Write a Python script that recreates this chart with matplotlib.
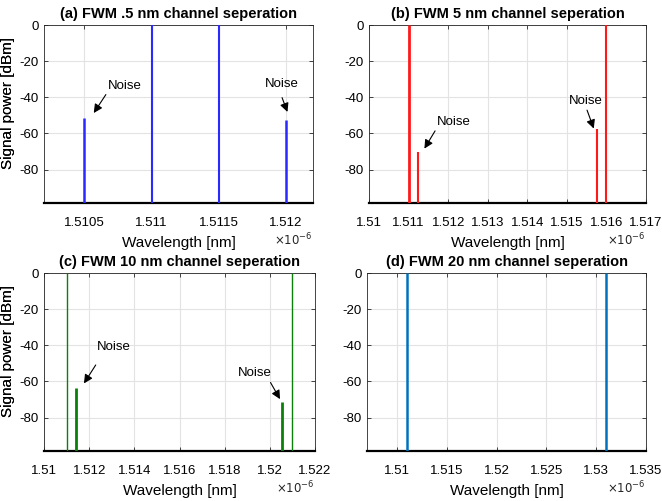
import matplotlib
matplotlib.use('Agg')
import matplotlib.pyplot as plt

plt.rcParams['font.family'] = ['Liberation Sans', 'DejaVu Sans']
plt.rcParams['axes.unicode_minus'] = False

# Wavelengths in units of 1e-6, power in dBm
titles = ['(a) FWM .5 nm channel seperation',
          '(b) FWM 5 nm channel seperation',
          '(c) FWM 10 nm channel seperation',
          '(d) FWM 20 nm channel seperation']

a_wl = [1.5105, 1.5110, 1.5115, 1.5120]
a_pw = [-51.5, 0, 0, -52.4]

b_wl = [1.5110, 1.51124, 1.51576, 1.5160]
b_pw = [0, -70.2, -57.6, 0]

c_wl = [1.5110, 1.5114, 1.52056, 1.5210]
c_pw = [0, -63.5, -71.3, 0]

d_wl = [1.5110, 1.5310]
d_pw = [0, 0]

x_limits = [(1.5102, 1.5122), (1.510, 1.517), (1.510, 1.522), (1.507, 1.535)]
x_ticks = [[1.5105, 1.511, 1.5115, 1.512],
           [1.51, 1.511, 1.512, 1.513, 1.514, 1.515, 1.516, 1.517],
           [1.51, 1.512, 1.514, 1.516, 1.518, 1.52, 1.522],
           [1.51, 1.515, 1.52, 1.525, 1.53, 1.535]]
y_ticks = [-80, -60, -40, -20, 0]
Y_BOTTOM = -98.5

# noise labels: (text position, arrow tail, arrow tip)
a_notes = [((1.5108, -33.7), (1.51066, -38.5), (1.51057, -48.7)),
           ((1.51197, -32.4), (1.51197, -40.2), (1.51201, -48.1))]
b_notes = [((1.51215, -53.6), (1.51167, -58.6), (1.51140, -68.4)),
           ((1.51549, -42.1), (1.51551, -47.1), (1.51568, -57.3))]
c_notes = [((1.5131, -41.1), (1.51229, -50.9), (1.51177, -61.1)),
           ((1.51935, -55.6), (1.52003, -60.6), (1.52045, -69.8))]

colors = ['#2a2aff', '#ff1a1a', '#0a800a', '#0072bd']
widths = [[1.8, 1.5, 1.5, 1.8], [2.0, 1.5, 1.5, 1.5],
          [1.0, 2.0, 2.0, 1.0], [1.8, 1.8]]

fig = plt.figure(figsize=(6.62, 5.01), dpi=100)
W, H = 662, 501
boxes = [(44, 25, 313, 203), (369, 25, 646, 203),
         (44, 273, 315, 451), (367, 273, 646, 451)]

panels = [(a_wl, a_pw, a_notes), (b_wl, b_pw, b_notes),
          (c_wl, c_pw, c_notes), (d_wl, d_pw, [])]

for i, (wl, pw, notes) in enumerate(panels):
    l, t, r, b = boxes[i]
    ax = fig.add_axes([l / W, (H - b) / H, (r - l) / W, (b - t) / H])
    ax.vlines(wl, Y_BOTTOM, pw, colors=colors[i], linewidths=widths[i], zorder=3)
    ax.set_xlim(*x_limits[i])
    ax.set_ylim(Y_BOTTOM, 0)
    ax.set_xticks(x_ticks[i])
    ax.set_xticklabels([('%g' % v) for v in x_ticks[i]])
    ax.set_yticks(y_ticks)
    ax.grid(True, color='#e3e3e3', linewidth=0.8)
    ax.set_axisbelow(True)
    ax.tick_params(direction='in', length=3, top=True, right=True,
                   labelsize=9.5, color='#262626', width=0.6, pad=10)
    ax.tick_params(axis='y', pad=4)
    for s in ax.spines.values():
        s.set_color('#262626')
        s.set_linewidth(0.6)
    ax.spines['bottom'].set_color('black')
    ax.spines['bottom'].set_linewidth(1.6)
    ax.set_title(titles[i], fontsize=10.5, fontweight='bold', pad=5)
    ax.set_xlabel('Wavelength [nm]', fontsize=11)
    ax.xaxis.set_label_coords(0.5, -0.185)
    ax.set_ylabel('Signal power [dBm]', fontsize=11)
    ax.yaxis.set_label_coords(-(l - 15) / (r - l), 0.56)
    ax.text(1.0, -0.21, r'$\times10^{-6}$', transform=ax.transAxes,
            ha='right', va='center', fontsize=8.5, color='#262626')
    for txt, tail, tip in notes:
        ax.text(txt[0], txt[1], 'Noise', ha='center', va='center', fontsize=9.5)
        ax.annotate('', xy=tip, xytext=tail,
                    arrowprops=dict(arrowstyle='-|>', color='black', lw=0.8,
                                    mutation_scale=13, shrinkA=0, shrinkB=0))

fig.savefig('out.png', dpi=100)
